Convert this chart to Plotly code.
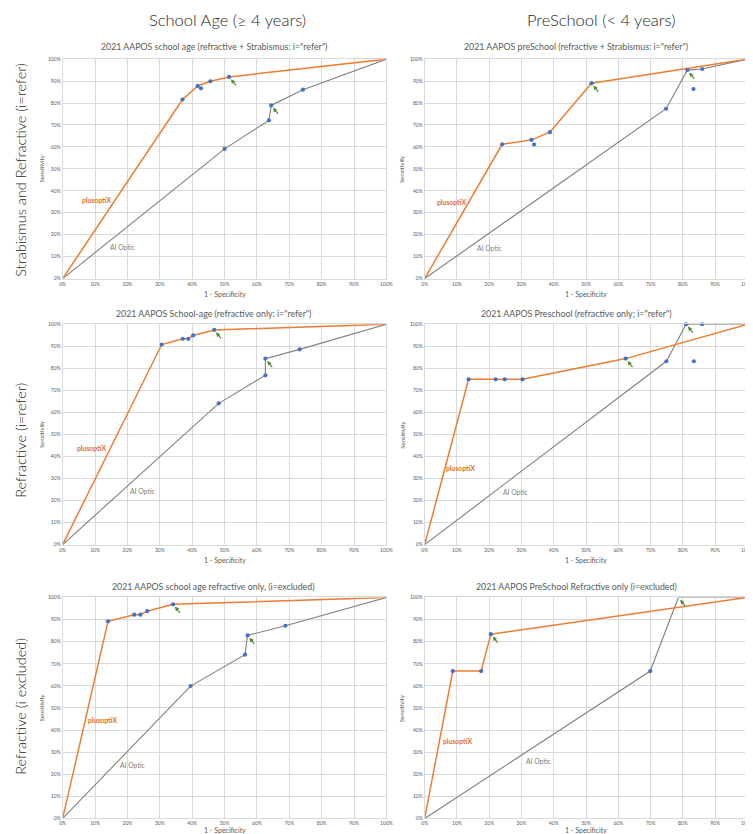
import plotly.graph_objects as go

W, H = 753, 834

# ---------------- data ----------------
col_headers = ["School Age (≥ 4 years)", "PreSchool (< 4 years)"]
row_headers = ["Strabismus and Refractive (i=refer)", "Refractive (i=refer)", "Refractive (i excluded)"]

titles = [
    '2021 AAPOS school age (refractive + Strabismus: i="refer")',
    '2021 AAPOS preSchool (refractive + Strabismus: i="refer")',
    '2021 AAPOS School-age (refractive only: i="refer")',
    '2021 AAPOS Preschool (refractive only; i="refer")',
    '2021 AAPOS school age refractive only, (i=excluded)',
    '2021 AAPOS PreSchool Refractive only (i=excluded)',
]

# panel 1
p1_plus_x = [0, 0.370, 0.417, 0.456, 0.514, 1]
p1_plus_y = [0, 0.816, 0.878, 0.899, 0.919, 1]
p1_ai_x = [0, 0.500, 0.637, 0.644, 0.742, 1]
p1_ai_y = [0, 0.591, 0.721, 0.789, 0.861, 1]
p1_dot_x = [0.370, 0.417, 0.427, 0.456, 0.514, 0.500, 0.637, 0.644, 0.742]
p1_dot_y = [0.816, 0.878, 0.867, 0.899, 0.919, 0.591, 0.721, 0.789, 0.861]
p1_sel = [4, 3]  # arrow target index in plusoptiX / AI Optic vertices

# panel 2
p2_plus_x = [0, 0.240, 0.331, 0.388, 0.517, 1]
p2_plus_y = [0, 0.612, 0.632, 0.667, 0.890, 1]
p2_ai_x = [0, 0.748, 0.814, 0.860, 1]
p2_ai_y = [0, 0.774, 0.950, 0.955, 1]
p2_dot_x = [0.240, 0.331, 0.339, 0.388, 0.517, 0.748, 0.814, 0.860, 0.833]
p2_dot_y = [0.612, 0.632, 0.611, 0.667, 0.890, 0.774, 0.950, 0.955, 0.864]
p2_sel = [4, 2]

# panel 3
p3_plus_x = [0, 0.306, 0.371, 0.388, 0.403, 0.468, 1]
p3_plus_y = [0, 0.908, 0.934, 0.934, 0.949, 0.974, 1]
p3_ai_x = [0, 0.482, 0.626, 0.626, 0.732, 1]
p3_ai_y = [0, 0.641, 0.768, 0.844, 0.886, 1]
p3_dot_x = [0.306, 0.371, 0.388, 0.403, 0.468, 0.482, 0.626, 0.626, 0.732]
p3_dot_y = [0.908, 0.934, 0.934, 0.949, 0.974, 0.641, 0.768, 0.844, 0.886]
p3_sel = [5, 3]

# panel 4
p4_plus_x = [0, 0.136, 0.220, 0.248, 0.303, 0.623, 1]
p4_plus_y = [0, 0.750, 0.750, 0.750, 0.750, 0.844, 1]
p4_ai_x = [0, 0.749, 0.810, 0.860, 1]
p4_ai_y = [0, 0.832, 1.000, 1.000, 1]
p4_dot_x = [0.136, 0.220, 0.248, 0.303, 0.623, 0.749, 0.810, 0.860, 0.834]
p4_dot_y = [0.750, 0.750, 0.750, 0.750, 0.844, 0.832, 1.000, 1.000, 0.832]
p4_sel = [5, 2]

# panel 5
p5_plus_x = [0, 0.140, 0.221, 0.240, 0.261, 0.341, 1]
p5_plus_y = [0, 0.892, 0.922, 0.922, 0.938, 0.969, 1]
p5_ai_x = [0, 0.395, 0.563, 0.571, 0.688, 1]
p5_ai_y = [0, 0.599, 0.741, 0.828, 0.872, 1]
p5_dot_x = [0.140, 0.221, 0.240, 0.261, 0.341, 0.395, 0.563, 0.571, 0.688]
p5_dot_y = [0.892, 0.922, 0.922, 0.938, 0.969, 0.599, 0.741, 0.828, 0.872]
p5_sel = [5, 3]

# panel 6
p6_plus_x = [0, 0.087, 0.175, 0.205, 1]
p6_plus_y = [0, 0.667, 0.667, 0.834, 1]
p6_ai_x = [0, 0.699, 0.786, 1]
p6_ai_y = [0, 0.667, 1.000, 1]
p6_dot_x = [0.087, 0.175, 0.205, 0.699]
p6_dot_y = [0.667, 0.667, 0.834, 0.667]
p6_sel = [3, 2]

# series label positions (data coords)
plus_label_x = [0.105, 0.082, 0.090, 0.112, 0.123, 0.103]
plus_label_y = [0.360, 0.350, 0.438, 0.346, 0.445, 0.350]
ai_label_x = [0.186, 0.202, 0.249, 0.282, 0.217, 0.354]
ai_label_y = [0.143, 0.140, 0.243, 0.238, 0.244, 0.259]

x_ticks = [i / 10 for i in range(11)]

panels = [
    (p1_plus_x, p1_plus_y, p1_ai_x, p1_ai_y, p1_dot_x, p1_dot_y, p1_sel),
    (p2_plus_x, p2_plus_y, p2_ai_x, p2_ai_y, p2_dot_x, p2_dot_y, p2_sel),
    (p3_plus_x, p3_plus_y, p3_ai_x, p3_ai_y, p3_dot_x, p3_dot_y, p3_sel),
    (p4_plus_x, p4_plus_y, p4_ai_x, p4_ai_y, p4_dot_x, p4_dot_y, p4_sel),
    (p5_plus_x, p5_plus_y, p5_ai_x, p5_ai_y, p5_dot_x, p5_dot_y, p5_sel),
    (p6_plus_x, p6_plus_y, p6_ai_x, p6_ai_y, p6_dot_x, p6_dot_y, p6_sel),
]

# ---------------- layout geometry (pixels) ----------------
col_px = [(52.3, 380.0), (418.7, 745.3)]
row_px = [(48.5, 269.5), (315.5, 537.5), (590.7, 813.3)]
title_cx = [205, 572]
title_y = [36, 304.7, 580]
xtitle_y = [285, 553, 825]
ytitle_x = [31, 396]

ORANGE = "#ED7D31"
GREY = "#808080"
BLUE = "#4472C4"
GREEN = "#4F8A2B"
TXT = "#595959"
FONT = "Lato"

fig = go.Figure()
annotations = []

def px_x(p):
    return p / W

def px_y(p):
    return 1 - p / H

layout_axes = {}
for i, (plx, ply, aix, aiy, dx, dy, sel) in enumerate(panels):
    r, c = divmod(i, 2)
    n = i + 1
    xa = "x" if n == 1 else f"x{n}"
    ya = "y" if n == 1 else f"y{n}"
    x0, x1 = col_px[c]
    y0, y1 = row_px[r]
    axcommon = dict(
        range=[0, 1], tickvals=x_ticks, tickformat=".0%",
        showgrid=True, gridcolor="#D9D9D9", gridwidth=1,
        zeroline=False, showline=True, mirror=True, linecolor="#D9D9D9", linewidth=1,
        ticks="", tickfont=dict(family=FONT, size=5, color=TXT), fixedrange=True,
        ticklabeloverflow="allow",
    )
    layout_axes["xaxis" if n == 1 else f"xaxis{n}"] = dict(
        axcommon, domain=[px_x(x0), px_x(x1)], anchor=ya)
    layout_axes["yaxis" if n == 1 else f"yaxis{n}"] = dict(
        axcommon, domain=[px_y(y1), px_y(y0)], anchor=xa)

    fig.add_trace(go.Scatter(x=aix, y=aiy, mode="lines", line=dict(color=GREY, width=1.1),
                             xaxis=xa, yaxis=ya, showlegend=False, cliponaxis=False, hoverinfo="skip"))
    fig.add_trace(go.Scatter(x=plx, y=ply, mode="lines", line=dict(color=ORANGE, width=1.5),
                             xaxis=xa, yaxis=ya, showlegend=False, cliponaxis=False, hoverinfo="skip"))
    fig.add_trace(go.Scatter(x=dx, y=dy, mode="markers",
                             marker=dict(color=BLUE, size=4.2, symbol="circle"),
                             xaxis=xa, yaxis=ya, showlegend=False, cliponaxis=False))

    # arrows pointing at the selected thresholds
    for (sx, sy) in [(plx[sel[0]], ply[sel[0]]), (aix[sel[1]], aiy[sel[1]])]:
        annotations.append(dict(
            x=sx, y=sy, xref=xa, yref=ya, text="", showarrow=True,
            ax=8, ay=10, arrowhead=2, arrowsize=0.7, arrowwidth=1.2,
            arrowcolor=GREEN, standoff=3))

    # series labels
    annotations.append(dict(x=plus_label_x[i], y=plus_label_y[i], xref=xa, yref=ya,
                            text="<b>plusoptiX</b>", showarrow=False,
                            font=dict(family=FONT, size=6.8, color="#E0701F")))
    annotations.append(dict(x=ai_label_x[i], y=ai_label_y[i], xref=xa, yref=ya,
                            text="AI Optic", showarrow=False,
                            font=dict(family=FONT, size=6.8, color=GREY)))

    # chart title
    annotations.append(dict(x=px_x(title_cx[c]), y=px_y(title_y[r]), xref="paper", yref="paper",
                            text=titles[i], showarrow=False, xanchor="center", yanchor="middle",
                            font=dict(family=FONT, size=8.8, color=TXT)))
    # axis titles
    annotations.append(dict(x=px_x((x0 + x1) / 2), y=px_y(xtitle_y[r]), xref="paper", yref="paper",
                            text="1 - Specificity", showarrow=False, xanchor="center", yanchor="middle",
                            font=dict(family=FONT, size=7, color=TXT)))
    annotations.append(dict(x=px_x(ytitle_x[c]), y=px_y((y0 + y1) / 2), xref="paper", yref="paper",
                            text="Sensitivity", showarrow=False, textangle=-90,
                            xanchor="center", yanchor="middle",
                            font=dict(family=FONT, size=6, color=TXT)))

# column and row headers
for cx, txt in zip([219, 597], col_headers):
    annotations.append(dict(x=px_x(cx), y=px_y(9), xref="paper", yref="paper", text=txt,
                            showarrow=False, xanchor="center", yanchor="middle",
                            font=dict(family=FONT, size=16.5, color="#262626", weight=300)))
for cy, txt in zip([160, 432, 700], row_headers):
    annotations.append(dict(x=px_x(10), y=px_y(cy), xref="paper", yref="paper", text=txt,
                            showarrow=False, textangle=-90, xanchor="center", yanchor="middle",
                            font=dict(family=FONT, size=14.5, color="#262626", weight=300)))

fig.update_layout(
    width=W, height=H, margin=dict(l=0, r=0, t=0, b=0),
    paper_bgcolor="white", plot_bgcolor="white",
    annotations=annotations, **layout_axes,
)

fig.write_html("out.html")
